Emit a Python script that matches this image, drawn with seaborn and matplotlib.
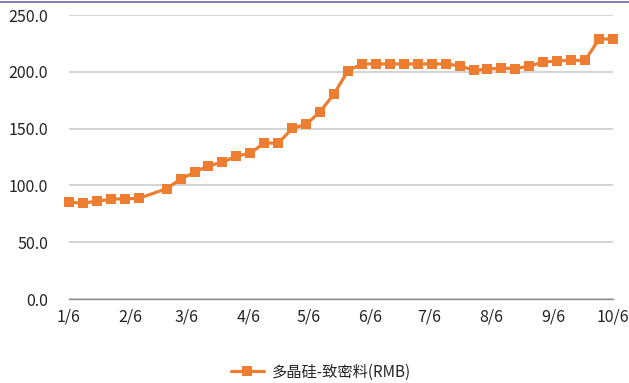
import pandas as pd
import numpy as np
from matplotlib import pyplot as plt
from matplotlib.lines import Line2D
import seaborn as sns

# weekly price points (2021), one week missing around Chinese New Year
dates = ['2021-01-06', '2021-01-13', '2021-01-20', '2021-01-27', '2021-02-03',
         '2021-02-10', '2021-02-24', '2021-03-03', '2021-03-10', '2021-03-17',
         '2021-03-24', '2021-03-31', '2021-04-07', '2021-04-14', '2021-04-21',
         '2021-04-28', '2021-05-05', '2021-05-12', '2021-05-19', '2021-05-26',
         '2021-06-02', '2021-06-09', '2021-06-16', '2021-06-23', '2021-06-30',
         '2021-07-07', '2021-07-14', '2021-07-21', '2021-07-28', '2021-08-04',
         '2021-08-11', '2021-08-18', '2021-08-25', '2021-09-01', '2021-09-08',
         '2021-09-15', '2021-09-22', '2021-09-29', '2021-10-06']
prices = [85.0, 84.5, 86.0, 87.8, 88.3, 88.6, 97.1, 105.6, 111.5, 117.3,
          120.3, 125.9, 128.2, 137.6, 137.0, 150.2, 153.7, 164.9, 180.5, 201.0,
          206.9, 206.9, 206.9, 206.9, 206.9, 206.9, 206.9, 205.4, 201.3, 202.2,
          203.4, 202.7, 205.1, 208.6, 209.5, 210.1, 210.1, 228.9, 228.9]
series_name = '多晶硅-致密料(RMB)'
tick_dates = ['2021-01-06', '2021-02-06', '2021-03-06', '2021-04-06', '2021-05-06',
              '2021-06-06', '2021-07-06', '2021-08-06', '2021-09-06', '2021-10-06']
y_ticks = [0, 50, 100, 150, 200, 250]

df = pd.DataFrame({'date': pd.to_datetime(dates), 'price': prices})

sns.set_style('white')
plt.rcParams['font.family'] = ['Noto Sans CJK SC', 'DejaVu Sans']

fig = plt.figure(figsize=(6.29, 3.83), dpi=100)
ax = fig.add_axes([0.1097, 0.2193, 0.8649, 0.7415])

sns.lineplot(data=df, x='date', y='price', ax=ax, color='#ED7D31',
             linewidth=2.3, marker='s', markersize=7, markeredgewidth=0,
             label=series_name, legend=False, clip_on=False)

# axis limits and ticks
ticks = pd.to_datetime(tick_dates)
ax.set_xlim(ticks[0], ticks[-1])
ax.set_xticks(ticks)
ax.set_xticklabels([f'{d.month}/{d.day}' for d in ticks], fontsize=11.5, color='#222222')
ax.set_ylim(0, 250)
ax.set_yticks(y_ticks)
ax.set_yticklabels([f'{v:.1f}' for v in y_ticks], fontsize=11.5, color='#222222')
ax.tick_params(axis='x', length=0, pad=7)
ax.tick_params(axis='y', length=0, pad=15)
ax.set_xlabel('')
ax.set_ylabel('')

# gridlines only horizontal
ax.yaxis.grid(True, color='#cccccc', linewidth=1.2)
ax.xaxis.grid(False)
ax.set_axisbelow(True)
for side in ['top', 'right', 'left']:
    ax.spines[side].set_visible(False)
ax.spines['bottom'].set_color('#8c8c8c')
ax.spines['bottom'].set_linewidth(1)

# legend at the bottom
handles = [Line2D([0], [0], color='#ED7D31', linewidth=2.3, marker='s',
                  markersize=7, markeredgewidth=0)]
fig.legend(handles, [series_name], loc='center', bbox_to_anchor=(0.51, 1 - 372 / 383),
           frameon=False, fontsize=11, handlelength=2.2, handletextpad=0.5)

# thin border line across the top
fig.add_artist(Line2D([0, 1], [1 - 2 / 383, 1 - 2 / 383], color='#6b6ba6',
                      linewidth=1.2, transform=fig.transFigure))

plt.savefig('out.png', dpi=100)
